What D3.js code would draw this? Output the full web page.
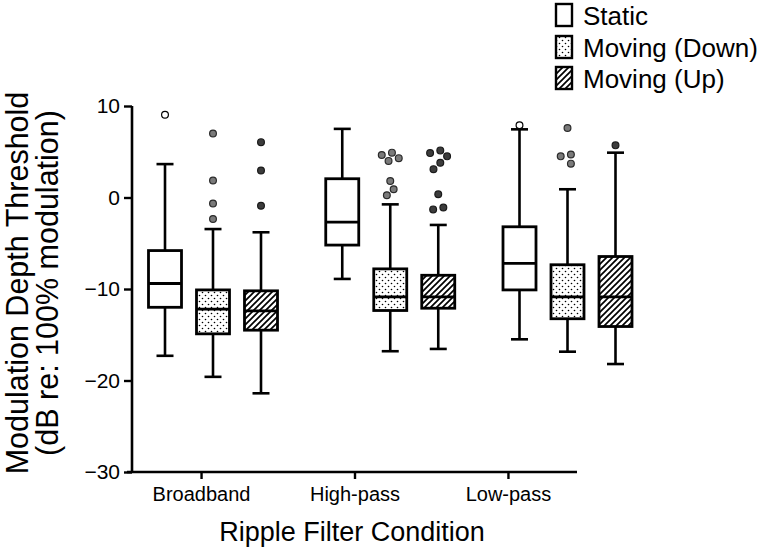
<!DOCTYPE html>
<html>
<head>
<meta charset="utf-8">
<script src="https://cdn.jsdelivr.net/npm/d3@7"></script>
<style>
  html, body { margin: 0; padding: 0; background: #fff; }
  svg { display: block; font-family: "Liberation Sans", Arial, Helvetica, sans-serif; }
</style>
</head>
<body>
<svg id="chart" width="763" height="552"></svg>
<script>
// ---------------- data ----------------
const categories = ["Broadband", "High-pass", "Low-pass"];
const seriesNames = ["Static", "Moving (Down)", "Moving (Up)"];
const yTicks = [-30, -20, -10, 0, 10];

// per category: Broadband, High-pass, Low-pass
const staticLow    = [-17.3, -8.9, -15.5];
const staticQ1     = [-12.0, -5.2, -10.1];
const staticMedian = [-9.4, -2.7, -7.2];
const staticQ3     = [-5.8, 2.05, -3.2];
const staticHigh   = [3.65, 7.5, 7.45];
const staticOutliers = [[9.05], [], [7.9]];

const downLow    = [-19.6, -16.8, -16.85];
const downQ1     = [-14.9, -12.35, -13.25];
const downMedian = [-12.2, -10.85, -10.85];
const downQ3     = [-10.1, -7.8, -7.35];
const downHigh   = [-3.45, -0.75, 0.9];
const downOutliers = [[7.0, 1.85, -0.65, -2.35], [4.9, 4.65, 4.3, 4.0, 1.8, 0.9, 0.25], [7.6, 4.7, 4.5, 3.7]];

const upLow    = [-21.4, -16.55, -18.2];
const upQ1     = [-14.5, -12.1, -14.1];
const upMedian = [-12.4, -10.85, -10.85];
const upQ3     = [-10.2, -8.5, -6.45];
const upHigh   = [-3.8, -3.0, 4.9];
const upOutliers = [[6.05, 2.95, -0.9], [5.15, 4.85, 4.5, 3.8, 3.1, 0.35, -1.1, -1.3], [5.7]];

const seriesData = [
  { name: seriesNames[0], low: staticLow, q1: staticQ1, med: staticMedian, q3: staticQ3, high: staticHigh, out: staticOutliers, fill: "#ffffff", dot: "#ffffff", dotStroke: "#000" },
  { name: seriesNames[1], low: downLow, q1: downQ1, med: downMedian, q3: downQ3, high: downHigh, out: downOutliers, fill: "url(#dots)", dot: "#7a7a7a", dotStroke: "#2a2a2a" },
  { name: seriesNames[2], low: upLow, q1: upQ1, med: upMedian, q3: upQ3, high: upHigh, out: upOutliers, fill: "url(#hatch)", dot: "#3c3c3c", dotStroke: "#1a1a1a" }
];

// ---------------- layout ----------------
const svg = d3.select("#chart");
const axisX = 132, axisTop = 106, axisBottom = 472, axisRight = 577;

const y = d3.scaleLinear().domain([-30, 10]).range([axisBottom, axisTop]);
const xAxisScale = d3.scalePoint().domain(categories).range([axisX, axisRight]).padding(0.45);
// box groups are placed on their own scale (as in the original figure)
const xGroup = d3.scalePoint().domain(categories).range([213, 567.5]);
const xSeries = d3.scalePoint().domain(seriesNames).range([-48, 48]);
const boxW = 33, capW = 17, dotR = 3.4;

// ---------------- patterns ----------------
const defs = svg.append("defs");
const pd = defs.append("pattern").attr("id", "dots").attr("patternUnits", "userSpaceOnUse")
  .attr("width", 6).attr("height", 6);
pd.append("rect").attr("width", 6).attr("height", 6).attr("fill", "#fff");
pd.append("circle").attr("cx", 1.5).attr("cy", 1.5).attr("r", 0.8).attr("fill", "#000");
pd.append("circle").attr("cx", 4.5).attr("cy", 4.5).attr("r", 0.8).attr("fill", "#000");

const ph = defs.append("pattern").attr("id", "hatch").attr("patternUnits", "userSpaceOnUse")
  .attr("width", 6).attr("height", 6);
ph.append("rect").attr("width", 6).attr("height", 6).attr("fill", "#fff");
ph.append("path").attr("d", "M0,6 L6,0 M-1.5,1.5 L1.5,-1.5 M4.5,7.5 L7.5,4.5")
  .attr("stroke", "#000").attr("stroke-width", 1.7);

// ---------------- axes ----------------
const yAxis = svg.append("g").attr("transform", `translate(${axisX},0)`)
  .call(d3.axisLeft(y).tickValues(yTicks).tickSize(8).tickPadding(4));
yAxis.select(".domain").attr("d", `M0,${axisTop}V${axisBottom}`).attr("stroke-width", 2.6);
yAxis.selectAll(".tick line").attr("stroke-width", 2.4);
yAxis.selectAll(".tick text").attr("font-size", 21).attr("fill", "#000")
  .attr("font-family", "'Liberation Sans', Arial, sans-serif");

const xAxis = svg.append("g").attr("transform", `translate(0,${axisBottom})`)
  .call(d3.axisBottom(xAxisScale).tickSize(7).tickPadding(8));
xAxis.select(".domain").attr("d", `M${axisX - 5},0H${axisRight}`).attr("stroke-width", 2.6);
xAxis.selectAll(".tick line").attr("stroke-width", 2.4);
xAxis.selectAll(".tick text").attr("font-size", 20).attr("fill", "#000")
  .attr("font-family", "'Liberation Sans', Arial, sans-serif");

// axis titles
svg.append("text").attr("x", 352).attr("y", 541).attr("text-anchor", "middle")
  .attr("font-size", 27).text("Ripple Filter Condition");
svg.append("text").attr("transform", "translate(28,283) rotate(-90)").attr("text-anchor", "middle")
  .attr("font-size", 30.5).text("Modulation Depth Threshold");
svg.append("text").attr("transform", "translate(58,283) rotate(-90)").attr("text-anchor", "middle")
  .attr("font-size", 30.5).text("(dB re: 100% modulation)");

// ---------------- boxes ----------------
function dodge(vals) {
  // greedy horizontal dodge for overlapping outlier dots
  const placed = [];
  const dmin = dotR * 2 + 0.6;
  vals.forEach(v => {
    const py = y(v);
    const cands = [0];
    for (let k = 1; k < 8; k++) { cands.push(-k * dotR, k * dotR); }
    let off = 0;
    for (const c of cands) {
      if (placed.every(p => Math.hypot(p.dx - c, p.py - py) >= dmin)) { off = c; break; }
    }
    placed.push({ v, py, dx: off });
  });
  // recenter clusters
  const clusters = [];
  placed.forEach(p => {
    const cl = clusters.find(c => c.some(q => Math.abs(q.py - p.py) < dmin));
    if (cl) cl.push(p); else clusters.push([p]);
  });
  clusters.forEach(c => {
    if (c.length > 1) {
      const m = d3.mean(c, p => p.dx);
      c.forEach(p => p.dx -= m);
    }
  });
  return placed;
}

seriesData.forEach(s => {
  categories.forEach((cat, i) => {
    const cx = xGroup(cat) + xSeries(s.name);
    const g = svg.append("g");
    const line = (x1, x2, y1, y2, w) => g.append("line")
      .attr("x1", x1).attr("x2", x2).attr("y1", y1).attr("y2", y2)
      .attr("stroke", "#000").attr("stroke-width", w);
    // whiskers and caps
    line(cx, cx, y(s.high[i]), y(s.q3[i]), 2.6);
    line(cx, cx, y(s.q1[i]), y(s.low[i]), 2.6);
    line(cx - capW / 2, cx + capW / 2, y(s.high[i]), y(s.high[i]), 2.6);
    line(cx - capW / 2, cx + capW / 2, y(s.low[i]), y(s.low[i]), 2.6);
    // box
    g.append("rect").attr("x", cx - boxW / 2).attr("y", y(s.q3[i]))
      .attr("width", boxW).attr("height", y(s.q1[i]) - y(s.q3[i]))
      .attr("fill", s.fill).attr("stroke", "#000").attr("stroke-width", 2.8);
    line(cx - boxW / 2, cx + boxW / 2, y(s.med[i]), y(s.med[i]), 2.8);
    // outliers
    dodge(s.out[i]).forEach(p => {
      g.append("circle").attr("cx", cx + p.dx).attr("cy", p.py).attr("r", dotR)
        .attr("fill", s.dot).attr("stroke", s.dotStroke).attr("stroke-width", 1.2);
    });
  });
});

// ---------------- legend ----------------
const legendBaselines = [25, 57, 88];
seriesData.forEach((s, i) => {
  const b = legendBaselines[i];
  svg.append("rect").attr("x", 556).attr("y", b - 21).attr("width", 16).attr("height", 22)
    .attr("fill", s.fill).attr("stroke", "#000").attr("stroke-width", 2.4);
  svg.append("text").attr("x", 583).attr("y", b).attr("font-size", 26).text(s.name);
});
</script>
</body>
</html>
